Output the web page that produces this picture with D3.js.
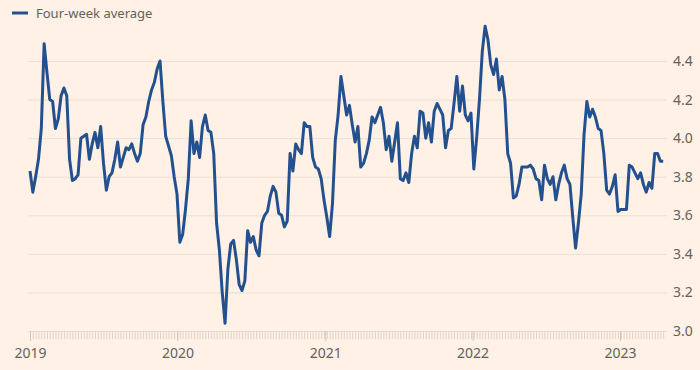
<!DOCTYPE html>
<html>
<head>
<meta charset="utf-8">
<script src="https://cdn.jsdelivr.net/npm/d3@7"></script>
<style>
  body{margin:0;background:#fff1e5;}
  .canvas text{font-family:"Noto Sans",sans-serif;fill:#66605c;}
</style>
</head>
<body>
<div class="canvas"></div>
<script>
// weekly readings of the four-week average, starting first week of 2019
const startDate=new Date(2019,0,1);
const values=[
  3.83,3.72,3.80,3.89,4.05,4.49,4.34,4.20,4.19,4.05,4.10,4.22,4.26,4.22,3.89,3.78,3.79,3.81,4.00,4.01,
  4.02,3.89,3.97,4.03,3.95,4.06,3.87,3.73,3.80,3.82,3.89,3.98,3.85,3.90,3.95,3.94,3.97,3.92,3.88,3.92,
  4.07,4.11,4.19,4.25,4.29,4.36,4.40,4.19,4.01,3.96,3.91,3.80,3.71,3.46,3.50,3.63,3.79,4.09,3.92,3.98,
  3.90,4.06,4.12,4.04,4.03,3.92,3.56,3.42,3.20,3.04,3.32,3.45,3.47,3.37,3.24,3.21,
  3.26,3.52,3.46,3.49,3.42,3.39,3.56,3.60,3.62,3.70,3.75,3.72,3.61,3.60,3.54,3.57,3.92,3.83,3.97,3.94,
  3.92,4.08,4.06,4.06,3.90,3.85,3.84,3.79,3.68,3.59,3.49,3.66,3.99,4.12,4.32,4.22,4.12,4.17,4.07,3.98,
  4.06,3.85,3.87,3.92,3.99,4.11,4.08,4.12,4.16,4.08,3.94,4.01,3.88,3.98,4.08,3.79,3.78,3.82,3.77,3.92,
  4.01,3.95,4.14,4.13,4.00,4.08,3.98,4.14,4.18,4.15,4.12,3.95,4.04,4.05,4.18,4.32,
  4.14,4.27,4.12,4.09,4.13,3.84,4.00,4.20,4.45,4.58,4.51,4.38,4.33,4.41,4.25,4.32,4.20,3.92,3.87,3.69,
  3.70,3.76,3.85,3.85,3.85,3.86,3.84,3.79,3.78,3.68,3.86,3.79,3.76,3.80,3.68,3.76,3.82,3.86,3.79,3.76,
  3.59,3.43,3.56,3.71,4.02,4.19,4.11,4.15,4.11,4.05,4.04,3.92,3.73,3.71,3.75,3.81,3.62,3.63,3.63,3.63,
  3.86,3.85,3.82,3.79,3.82,3.76,3.72,3.77,3.74,3.92,3.92,3.88,3.88
];
const weeks=values.map((v,i)=>d3.timeDay.offset(startDate,7*i));
const yearTicks=[2019,2020,2021,2022,2023].map(y=>new Date(y,0,1));
const valueTicks=[3.0,3.2,3.4,3.6,3.8,4.0,4.2,4.4];
const seriesName='Four-week average';

const dims={width:700,height:370};
const plot={left:28,right:667,top:61,bottom:331};

const svg=d3.select('.canvas')
.append('svg')
.attr('width',dims.width)
.attr('height',dims.height);

const x=d3.scaleTime()
.domain([yearTicks[0],yearTicks[4]])
.range([30,620]);

const y=d3.scaleLinear()
.domain([3.0,4.4])
.range([plot.bottom,plot.top]);

// gridlines + labels on the right
const yAxis=d3.axisRight(y)
.tickValues(valueTicks)
.tickFormat(d3.format('.1f'))
.tickSize(-(plot.right-plot.left))
.tickPadding(6);

const yGroup=svg.append('g')
.attr('transform',`translate(${plot.right},0)`)
.call(yAxis);
yGroup.select('.domain').remove();
yGroup.selectAll('line').attr('stroke','#e8e0d8');
yGroup.selectAll('text').attr('font-size',14).attr('dy','0.32em');

// weekly minor ticks
const minorGroup=svg.append('g')
.attr('transform',`translate(0,${plot.bottom})`)
.call(d3.axisBottom(x).tickValues(weeks).tickSize(8).tickFormat(''));
minorGroup.select('.domain').remove();
minorGroup.selectAll('line').attr('stroke','#ddd4cb');

// year ticks
const xGroup=svg.append('g')
.attr('transform',`translate(0,${plot.bottom})`)
.call(d3.axisBottom(x).tickValues(yearTicks).tickFormat(d3.timeFormat('%Y')).tickSize(10).tickPadding(7));
xGroup.select('.domain').remove();
xGroup.selectAll('line').attr('stroke','#cfc6bd');
xGroup.selectAll('text').attr('font-size',14);

const line=d3.line()
.x((d,i)=>x(weeks[i]))
.y(d=>y(d));

svg.append('path')
.datum(values)
.attr('d',line)
.attr('fill','none')
.attr('stroke','#23508f')
.attr('stroke-width',3)
.attr('stroke-linejoin','round');

// legend
const legendGroup=svg.append('g');
legendGroup.append('line')
.attr('x1',12).attr('x2',28)
.attr('y1',13).attr('y2',13)
.attr('stroke','#23508f')
.attr('stroke-width',3);
legendGroup.append('text')
.attr('x',36).attr('y',18)
.attr('font-size',13)
.text(seriesName);
</script>
</body>
</html>
